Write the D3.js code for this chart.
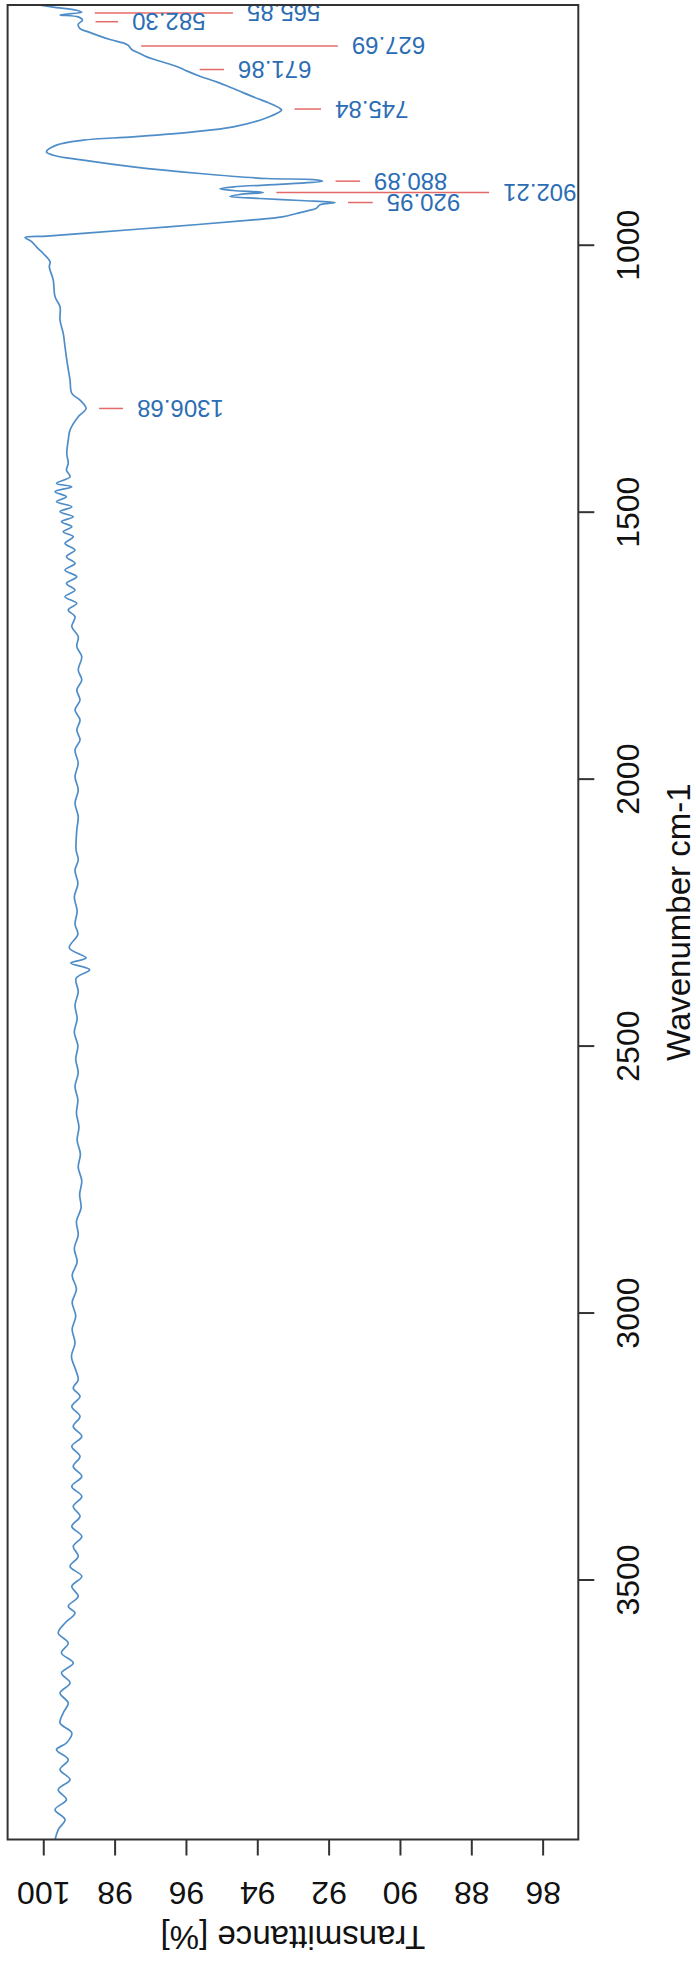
<!DOCTYPE html>
<html>
<head>
<meta charset="utf-8">
<script src="https://cdn.jsdelivr.net/npm/d3@7"></script>
<style>
  body { margin: 0; background: #fff; }
  svg { display: block; font-family: "Liberation Sans", Arial, sans-serif; }
</style>
</head>
<body>
<svg width="696" height="1961"></svg>
<script>
// spectrum (wavenumber cm-1 / transmittance %)
const wavenumber = [
  551.4, 555.8, 560.8, 564.5, 569.5, 573.3, 579.5, 587.0, 595.1, 601.4,
  615.7, 622.0, 626.3, 634.4, 641.9, 648.2, 654.4, 663.8, 670.0, 674.4,
  684.4, 695.0, 707.5, 723.1, 735.5, 744.9, 748.0, 754.3, 766.8, 779.2,
  788.6, 797.9, 804.2, 813.5, 826.0, 832.3, 841.6, 854.1, 866.6, 876.0,
  877.9, 880.9, 886.6, 891.6, 895.3, 898.4, 902.2, 905.9, 909.7, 913.4,
  917.2, 920.9, 925.3, 931.5, 936.5, 941.5, 947.8, 954.0, 966.5, 977.7,
  983.9, 986.4, 994.5, 1007.0, 1016.4, 1032.0, 1041.4, 1066.3, 1097.5, 1116.3,
  1141.2, 1166.2, 1191.2, 1216.1, 1253.6, 1278.5, 1291.0, 1306.7, 1322.2, 1347.2,
  1365.9, 1390.9, 1409.6, 1422.1, 1434.6, 1447.0, 1453.3, 1462.6, 1472.0, 1481.4,
  1490.7, 1500.1, 1509.5, 1518.8, 1528.2, 1537.5, 1546.9, 1559.4, 1571.9, 1584.3,
  1596.8, 1609.3, 1621.8, 1634.3, 1646.8, 1659.2, 1671.7, 1684.2, 1696.7, 1715.4,
  1734.1, 1752.9, 1771.6, 1796.5, 1815.3, 1834.0, 1852.7, 1871.4, 1890.2, 1908.9,
  1927.6, 1946.3, 1971.3, 1996.3, 2021.2, 2046.2, 2071.1, 2096.1, 2133.5, 2152.5,
  2171.5, 2196.8, 2222.0, 2247.4, 2272.7, 2291.6, 2316.9, 2335.9, 2345.4, 2358.0,
  2373.9, 2399.2, 2424.5, 2449.8, 2475.1, 2500.4, 2525.7, 2551.0, 2576.3, 2601.6,
  2626.9, 2652.2, 2677.5, 2702.8, 2728.1, 2753.4, 2778.7, 2804.0, 2829.3, 2854.6,
  2879.9, 2905.2, 2930.5, 2955.8, 2981.1, 3006.4, 3031.7, 3057.0, 3082.3, 3107.6,
  3125.9, 3141.5, 3157.1, 3175.8, 3194.5, 3213.3, 3232.0, 3250.7, 3269.4, 3288.2,
  3306.9, 3325.6, 3344.3, 3363.1, 3381.8, 3400.5, 3419.2, 3438.0, 3456.7, 3475.4,
  3494.1, 3512.8, 3531.6, 3550.3, 3562.8, 3581.5, 3600.2, 3618.9, 3637.7, 3656.4,
  3675.1, 3693.8, 3712.6, 3731.3, 3750.0, 3768.7, 3787.4, 3806.2, 3818.7, 3837.4,
  3856.1, 3874.8, 3893.6, 3912.3, 3931.0, 3949.7, 3968.4, 3987.0
];
const transmittance = [
  100.09, 99.63, 99.07, 98.92, 99.53, 99.02, 98.90, 99.02, 98.97, 98.74,
  98.13, 97.76, 97.62, 97.52, 97.29, 97.10, 96.82, 96.36, 96.12, 95.98,
  95.61, 95.14, 94.67, 94.11, 93.64, 93.36, 93.32, 93.46, 93.93, 94.67,
  95.79, 97.48, 98.88, 99.63, 99.91, 99.72, 98.88, 97.48, 95.61, 93.74,
  92.43, 92.17, 93.27, 94.67, 95.05, 94.67, 93.83, 94.49, 94.77, 93.93,
  92.80, 91.82, 92.24, 92.34, 92.60, 92.90, 93.30, 94.20, 96.50, 98.70,
  99.90, 100.51, 100.32, 100.15, 100.00, 99.81, 99.83, 99.72, 99.67, 99.53,
  99.53, 99.44, 99.39, 99.34, 99.25, 99.20, 98.97, 98.80, 99.02, 99.25,
  99.30, 99.34, 99.30, 99.35, 99.25, 99.63, 99.20, 99.67, 99.35, 99.63,
  99.20, 99.53, 99.16, 99.49, 99.20, 99.44, 99.16, 99.39, 99.11, 99.35,
  99.11, 99.39, 99.06, 99.35, 99.11, 99.39, 99.06, 99.30, 99.11, 99.20,
  99.02, 99.06, 98.92, 99.02, 98.92, 99.06, 98.97, 99.11, 98.97, 99.06,
  98.97, 99.11, 99.02, 99.11, 99.02, 99.11, 99.02, 99.06, 99.08, 99.02,
  99.11, 99.03, 99.13, 99.05, 99.11, 99.03, 99.27, 98.80, 99.23, 98.70,
  99.08, 99.02, 99.11, 99.05, 99.13, 99.03, 99.09, 99.02, 99.11, 99.03,
  99.07, 99.00, 99.05, 98.96, 99.02, 98.92, 98.98, 98.94, 99.07, 99.02,
  99.13, 99.05, 99.19, 99.07, 99.19, 99.09, 99.19, 99.11, 99.21, 99.09,
  99.02, 99.16, 98.97, 99.20, 98.97, 99.16, 98.92, 99.20, 98.97, 99.16,
  98.92, 99.20, 98.92, 99.16, 98.97, 99.20, 98.92, 99.16, 99.02, 99.25,
  98.92, 99.20, 99.02, 99.30, 99.11, 99.39, 99.58, 99.30, 99.49, 99.16,
  99.49, 99.25, 99.53, 99.30, 99.44, 99.53, 99.20, 99.35, 99.63, 99.30,
  99.53, 99.25, 99.58, 99.35, 99.67, 99.39, 99.58, 99.67
];

// picked peaks and where their labels sit on the transmittance axis
const peakWavenumber = [565.85, 582.30, 627.69, 671.86, 745.84, 880.89, 902.21, 920.95, 1306.68];
const peakTransmittance = [98.92, 98.90, 97.62, 95.98, 93.32, 92.17, 93.83, 91.82, 98.80];
const peakLabelAt = [94.29, 97.51, 91.35, 94.54, 91.82, 90.73, 87.11, 90.37, 97.37];

const transTicks = [100, 98, 96, 94, 92, 90, 88, 86];
const waveTicks = [1000, 1500, 2000, 2500, 3000, 3500];

const svg = d3.select('svg');
const width = +svg.attr('width');
const height = +svg.attr('height');

const plot = {left: 7.6, top: 5, right: 578.3, bottom: 1839.5};

const xScale = d3.scaleLinear().domain([101, 85]).range([plot.left, plot.right]);
const yScale = d3.scaleLinear().domain([551, 3987]).range([plot.top, plot.bottom]);

const spectrum = wavenumber.map((w, i) => ({w, t: transmittance[i]}));
const peaks = peakWavenumber.map((w, i) => ({w, t: peakTransmittance[i], at: peakLabelAt[i]}));

// spectrum line
const lineGen = d3.line()
  .x(d => xScale(d.t))
  .y(d => yScale(d.w))
  .curve(d3.curveCatmullRom);

svg.append('path')
  .attr('d', lineGen(spectrum))
  .attr('fill', 'none')
  .attr('stroke', '#4f8dc8')
  .attr('stroke-width', 1.7)
  .attr('stroke-linejoin', 'round');

// peak markers + labels (upside down, as in the scan)
svg.append('g').selectAll('line')
  .data(peaks)
  .join('line')
    .attr('x1', d => xScale(d.t) + 13)
    .attr('x2', d => xScale(d.at) - 14)
    .attr('y1', d => yScale(d.w))
    .attr('y2', d => yScale(d.w))
    .attr('stroke', '#e46a6a')
    .attr('stroke-width', 1.5);

svg.append('g').selectAll('text')
  .data(peaks)
  .join('text')
    .attr('x', d => xScale(d.at))
    .attr('y', d => yScale(d.w))
    .attr('transform', d => `rotate(180, ${xScale(d.at)}, ${yScale(d.w)})`)
    .attr('text-anchor', 'end')
    .attr('dominant-baseline', 'central')
    .attr('font-size', 24)
    .attr('fill', '#2b6db4')
    .text(d => d3.format('.2f')(d.w));

// transmittance axis (bottom)
const xAxisG = svg.append('g')
  .attr('transform', `translate(0, ${plot.bottom})`)
  .call(d3.axisBottom(xScale).tickValues(transTicks).tickSize(16).tickFormat(d3.format('d')));

xAxisG.select('.domain').remove();
xAxisG.attr('font-size', 32).attr('font-family', null);
xAxisG.selectAll('.tick line').attr('stroke', '#333').attr('stroke-width', 2);
xAxisG.selectAll('.tick text')
  .attr('y', 53.5)
  .attr('dy', null)
  .attr('dominant-baseline', 'central')
  .attr('fill', '#111')
  .attr('transform', 'rotate(180, 0, 53.5)');

svg.append('text')
  .attr('x', (plot.left + plot.right) / 2)
  .attr('y', 1937)
  .attr('transform', `rotate(180, ${(plot.left + plot.right) / 2}, 1937)`)
  .attr('text-anchor', 'middle')
  .attr('dominant-baseline', 'central')
  .attr('font-size', 33)
  .attr('fill', '#111')
  .text('Transmittance [%]');

// wavenumber axis (right)
const yAxisG = svg.append('g')
  .attr('transform', `translate(${plot.right}, 0)`)
  .call(d3.axisRight(yScale).tickValues(waveTicks).tickSize(16).tickFormat(d3.format('d')));

yAxisG.select('.domain').remove();
yAxisG.attr('font-size', 32).attr('font-family', null);
yAxisG.selectAll('.tick line').attr('stroke', '#333').attr('stroke-width', 2);
yAxisG.selectAll('.tick text')
  .attr('x', 50)
  .attr('dy', null)
  .attr('text-anchor', 'middle')
  .attr('dominant-baseline', 'central')
  .attr('fill', '#111')
  .attr('transform', 'rotate(-90, 50, 0)');

svg.append('text')
  .attr('x', 678)
  .attr('y', (plot.top + plot.bottom) / 2)
  .attr('transform', `rotate(-90, 678, ${(plot.top + plot.bottom) / 2})`)
  .attr('text-anchor', 'middle')
  .attr('dominant-baseline', 'central')
  .attr('font-size', 33)
  .attr('fill', '#111')
  .text('Wavenumber cm-1');

// plot frame
svg.append('rect')
  .attr('x', plot.left)
  .attr('y', plot.top)
  .attr('width', plot.right - plot.left)
  .attr('height', plot.bottom - plot.top)
  .attr('fill', 'none')
  .attr('stroke', '#333')
  .attr('stroke-width', 2);
</script>
</body>
</html>
